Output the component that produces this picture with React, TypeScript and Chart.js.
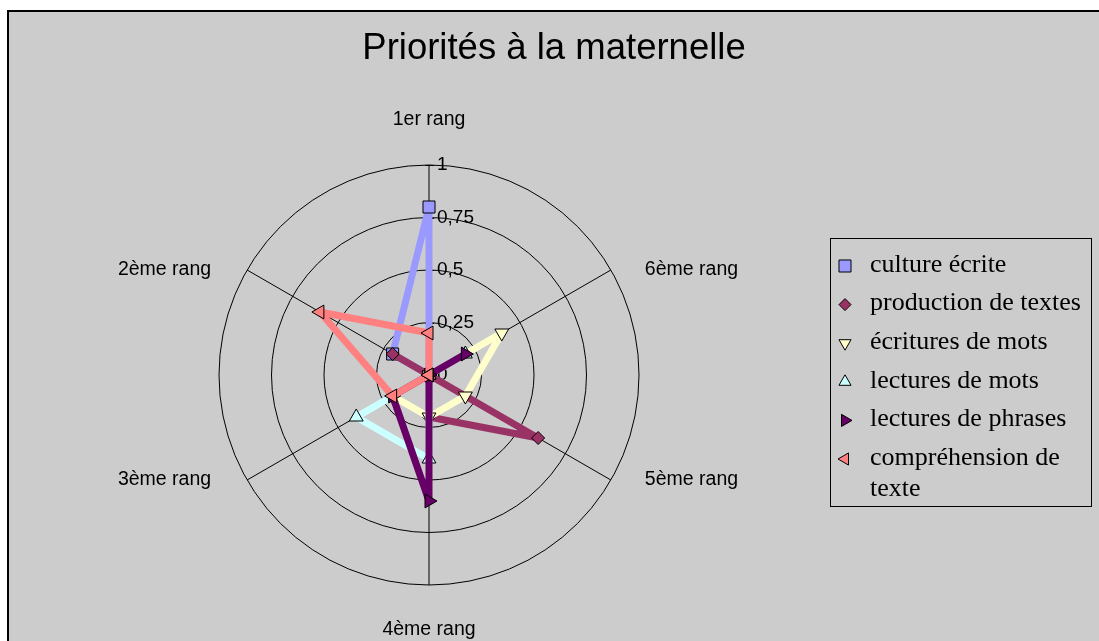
import React, { useEffect, useRef } from 'react';
import { Chart, registerables } from 'chart.js';

Chart.register(...registerables);

const TITLE = 'Priorités à la maternelle';
// categories in natural order (Excel draws them counter-clockwise from the top)
const CATEGORIES = ['1er rang', '2ème rang', '3ème rang', '4ème rang', '5ème rang', '6ème rang'];

const SERIES_NAMES = [
  'culture écrite',
  'production de textes',
  'écritures de mots',
  'lectures de mots',
  'lectures de phrases',
  'compréhension de texte',
];

const CULTURE_ECRITE = [0.8, 0.2, 0, 0, 0, 0];
const PRODUCTION_TEXTES = [0, 0.2, 0, 0.2, 0.6, 0];
const ECRITURES_MOTS = [0, 0, 0.2, 0.2, 0.2, 0.4];
const LECTURES_MOTS = [0, 0, 0.4, 0.4, 0, 0.2];
const LECTURES_PHRASES = [0, 0, 0.2, 0.6, 0, 0.2];
const COMPREHENSION_TEXTE = [0.2, 0.6, 0.2, 0, 0, 0];

const TICK_VALUES = [0, 0.25, 0.5, 0.75, 1];
const TICK_LABELS = ['0', '0,25', '0,5', '0,75', '1'];

const SERIES_VALUES = [
  CULTURE_ECRITE,
  PRODUCTION_TEXTES,
  ECRITURES_MOTS,
  LECTURES_MOTS,
  LECTURES_PHRASES,
  COMPREHENSION_TEXTE,
];

const COLORS = ['#9999FF', '#993366', '#FFFFCC', '#CCFFFF', '#660066', '#FF8080'];
const POINT_STYLES = ['rect', 'rectRot', 'triangle', 'triangle', 'triangle', 'triangle'];
const POINT_ROTATIONS = [0, 0, 180, 0, 90, 270];
const POINT_RADII = [8.5, 6.5, 8, 8, 8, 8];

// Chart.js goes clockwise, Excel counter-clockwise: reorder the axes
const AXIS_ORDER = [0, 5, 4, 3, 2, 1];

const W = 1099;
const H = 641;
const SANS = '"Liberation Sans", Arial, Helvetica, sans-serif';
const SERIF = '"Liberation Serif", "Times New Roman", serif';

function drawMarker(ctx: CanvasRenderingContext2D, style: string, rot: number, x: number, y: number, r: number, fill: string) {
  ctx.beginPath();
  if (style === 'rect') {
    const s = r * Math.SQRT1_2;
    ctx.rect(x - s, y - s, 2 * s, 2 * s);
  } else if (style === 'rectRot') {
    ctx.moveTo(x, y - r);
    ctx.lineTo(x + r, y);
    ctx.lineTo(x, y + r);
    ctx.lineTo(x - r, y);
    ctx.closePath();
  } else {
    for (let k = 0; k < 3; k++) {
      const a = (rot * Math.PI) / 180 + (k * 2 * Math.PI) / 3;
      const px = x + Math.sin(a) * r;
      const py = y - Math.cos(a) * r;
      if (k === 0) ctx.moveTo(px, py);
      else ctx.lineTo(px, py);
    }
    ctx.closePath();
  }
  ctx.fillStyle = fill;
  ctx.fill();
  ctx.lineWidth = 1;
  ctx.strokeStyle = '#000000';
  ctx.stroke();
}

const decorPlugin = {
  id: 'excelDecor',
  beforeDraw(chart: any) {
    const ctx: CanvasRenderingContext2D = chart.ctx;
    ctx.save();
    ctx.fillStyle = '#ffffff';
    ctx.fillRect(0, 0, W, H);
    ctx.fillStyle = '#000000';
    ctx.fillRect(7, 10, W - 7, H - 10);
    ctx.fillStyle = '#cccccc';
    ctx.fillRect(9, 12, W - 9, H - 12);
    // title
    ctx.fillStyle = '#000000';
    ctx.font = `36.5px ${SANS}`;
    ctx.textAlign = 'center';
    ctx.textBaseline = 'alphabetic';
    ctx.fillText(TITLE, 554, 59);
    ctx.restore();
  },
  beforeDatasetsDraw(chart: any) {
    const ctx: CanvasRenderingContext2D = chart.ctx;
    const scale = chart.scales.r;
    ctx.save();
    ctx.fillStyle = '#000000';
    ctx.strokeStyle = '#000000';
    ctx.lineWidth = 1;
    ctx.font = `19px ${SANS}`;
    ctx.textAlign = 'left';
    ctx.textBaseline = 'middle';
    TICK_VALUES.forEach((v, i) => {
      const y = scale.yCenter - scale.getDistanceFromCenterForValue(v);
      ctx.beginPath();
      ctx.moveTo(scale.xCenter - 4, Math.round(y) + 0.5);
      ctx.lineTo(scale.xCenter + 5, Math.round(y) + 0.5);
      ctx.stroke();
      ctx.fillText(TICK_LABELS[i], scale.xCenter + 8, y);
    });
    // axis (point) labels
    ctx.font = `19.5px ${SANS}`;
    const labels: string[] = chart.data.labels;
    labels.forEach((lab, i) => {
      const p = scale.getPointPosition(i, scale.drawingArea);
      const dx = p.x - scale.xCenter;
      const dy = p.y - scale.yCenter;
      if (Math.abs(dx) < 1) {
        ctx.textAlign = 'center';
        ctx.fillText(lab, p.x, p.y + (dy < 0 ? -45 : 45));
      } else {
        ctx.textAlign = dx < 0 ? 'right' : 'left';
        ctx.fillText(lab, p.x + (dx < 0 ? -36 : 34), p.y);
      }
    });
    ctx.restore();
  },
  afterDraw(chart: any) {
    const ctx: CanvasRenderingContext2D = chart.ctx;
    ctx.save();
    // legend box
    ctx.strokeStyle = '#000000';
    ctx.lineWidth = 1;
    ctx.strokeRect(830.5, 238.5, 261, 268);
    ctx.font = `26px ${SERIF}`;
    ctx.textAlign = 'left';
    ctx.textBaseline = 'middle';
    const maxW = 218;
    let y = 265;
    SERIES_NAMES.forEach((name, i) => {
      const r = POINT_STYLES[i] === 'rect' ? 8.5 : POINT_STYLES[i] === 'rectRot' ? 6 : 7;
      drawMarker(ctx, POINT_STYLES[i], POINT_ROTATIONS[i], 845, y + 1, r, COLORS[i]);
      // word wrap
      const words = name.split(' ');
      const lines: string[] = [];
      let cur = '';
      words.forEach((w) => {
        const test = cur ? cur + ' ' + w : w;
        if (ctx.measureText(test).width > maxW && cur) {
          lines.push(cur);
          cur = w;
        } else cur = test;
      });
      if (cur) lines.push(cur);
      ctx.fillStyle = '#000000';
      lines.forEach((ln, k) => ctx.fillText(ln, 870, y + k * 31));
      y += 38.6;
    });
    ctx.restore();
  },
};

export default function App() {
  const ref = useRef<HTMLCanvasElement | null>(null);

  useEffect(() => {
    if (!ref.current) return;
    const labels = AXIS_ORDER.map((k) => CATEGORIES[k]);
    const datasets = SERIES_NAMES.map((name, i) => ({
      label: name,
      data: AXIS_ORDER.map((k) => SERIES_VALUES[i][k]),
      borderColor: COLORS[i],
      backgroundColor: COLORS[i],
      borderWidth: 7,
      borderJoinStyle: 'round' as const,
      fill: false,
      pointStyle: POINT_STYLES[i] as any,
      pointRotation: POINT_ROTATIONS[i],
      pointRadius: POINT_RADII[i],
      pointBackgroundColor: COLORS[i],
      pointBorderColor: '#000000',
      pointBorderWidth: 1,
      order: SERIES_NAMES.length - 1 - i,
    }));

    const chart = new Chart(ref.current, {
      type: 'radar',
      data: { labels, datasets },
      options: {
        responsive: false,
        animation: false,
        devicePixelRatio: 1,
        events: [],
        layout: { padding: { left: 219, right: W - 639, top: 165, bottom: H - 585 } },
        plugins: {
          legend: { display: false },
          title: { display: false },
          tooltip: { enabled: false },
        },
        elements: { line: { tension: 0 } },
        scales: {
          r: {
            min: 0,
            max: 1,
            beginAtZero: true,
            ticks: { stepSize: 0.25, display: false },
            pointLabels: { display: false },
            grid: { circular: true, color: '#000000', lineWidth: 1 },
            angleLines: { display: true, color: '#000000', lineWidth: 1 },
          },
        },
      },
      plugins: [decorPlugin],
    });
    return () => chart.destroy();
  }, []);

  return (
    <div style={{ position: 'fixed', left: 0, top: 0, width: W, height: H }}>
      <canvas ref={ref} width={W} height={H} style={{ display: 'block', width: W, height: H }} />
    </div>
  );
}
